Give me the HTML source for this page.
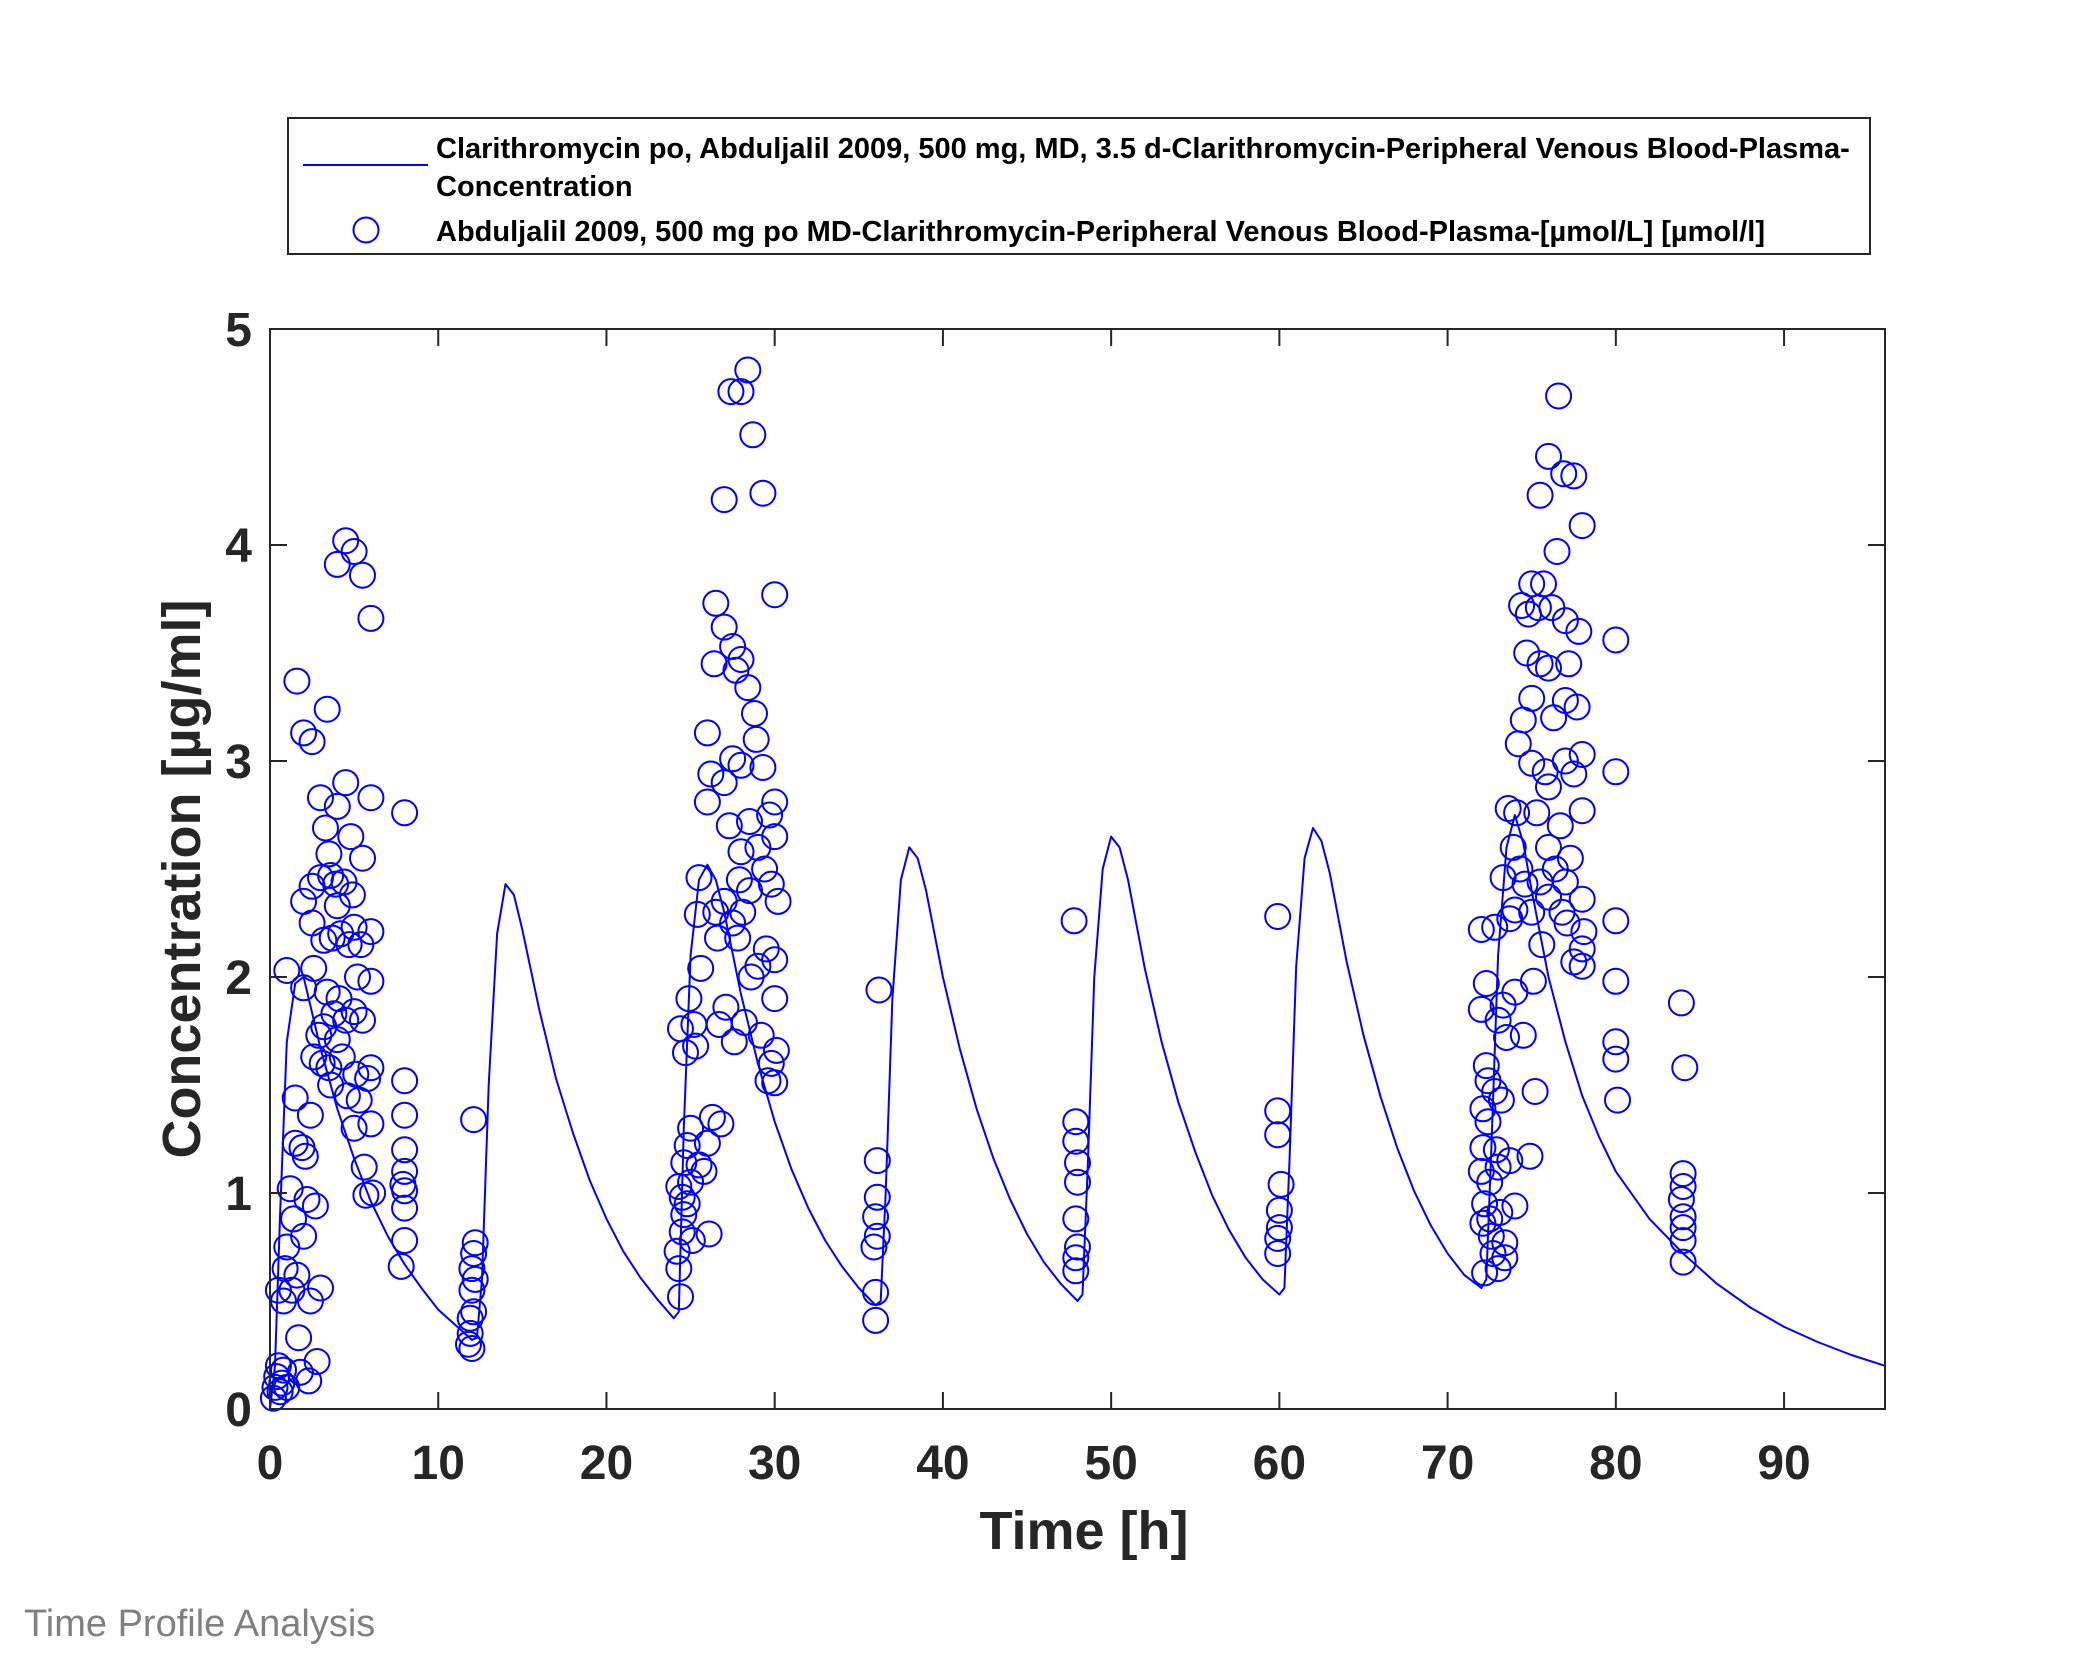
<!DOCTYPE html>
<html><head><meta charset="utf-8"><style>
body{margin:0;background:#fff}
svg{display:block}
text{font-family:"Liberation Sans",Arial,sans-serif}
</style></head><body>
<svg id="chart" width="2083" height="1667" viewBox="0 0 2083 1667" xmlns="http://www.w3.org/2000/svg">
<rect x="0" y="0" width="2083" height="1667" fill="#fff"/>
<g id="plot"></g>
<g id="axes"></g>
<text x="1084" y="1549" text-anchor="middle" font-size="54" font-weight="bold" fill="#262626">Time [h]</text>
<text transform="translate(200,879) rotate(-90)" text-anchor="middle" font-size="54" font-weight="bold" fill="#262626">Concentration [µg/ml]</text>
<g>
<rect x="288" y="118" width="1582" height="136" fill="#fff" stroke="#262626" stroke-width="2"/>
<line x1="303" y1="165" x2="428" y2="165" stroke="#0000ff" stroke-width="2"/>
<text x="436" y="158" font-size="29" font-weight="bold" fill="#000">Clarithromycin po, Abduljalil 2009, 500 mg, MD, 3.5 d-Clarithromycin-Peripheral Venous Blood-Plasma-</text>
<text x="436" y="196" font-size="29" font-weight="bold" fill="#000">Concentration</text>
<circle cx="366" cy="230" r="12.5" fill="none" stroke="#0000ff" stroke-width="2"/>
<text x="436" y="241" font-size="29" font-weight="bold" fill="#000">Abduljalil 2009, 500 mg po MD-Clarithromycin-Peripheral Venous Blood-Plasma-[µmol/L] [µmol/l]</text>
</g>
<text x="24" y="1636" font-size="38" fill="#808080">Time Profile Analysis</text>
</svg>
<script>
const xTicks=[0,10,20,30,40,50,60,70,80,90];
const yTicks=[0,1,2,3,4,5];
const simTime=[0,0.3,0.6,1,1.5,2,3,4,5,6,7,8,9,10,11,12,12.3,12.6,13,13.5,14,14.5,15,16,17,18,19,20,21,22,23,24,24.3,24.6,25,25.5,26,26.5,27,28,29,30,31,32,33,34,35,36,36.3,36.6,37,37.5,38,38.5,39,40,41,42,43,44,45,46,47,48,48.3,48.6,49,49.5,50,50.5,51,52,53,54,55,56,57,58,59,60,60.3,60.6,61,61.5,62,62.5,63,64,65,66,67,68,69,70,71,72,72.3,72.6,73,73.5,74,74.5,75,76,77,78,79,80,82,84,86,88,90,92,94,96];
const simConc=[0,0.2,0.9,1.7,1.97,2.0,1.67,1.39,1.16,0.96,0.8,0.67,0.56,0.46,0.39,0.32,0.33,0.6,1.5,2.2,2.43,2.38,2.22,1.85,1.53,1.28,1.06,0.88,0.73,0.61,0.51,0.42,0.45,1.3,2.1,2.45,2.52,2.45,2.3,1.92,1.6,1.33,1.11,0.93,0.78,0.66,0.56,0.48,0.5,1.0,1.9,2.45,2.6,2.55,2.4,2.0,1.67,1.39,1.16,0.97,0.81,0.68,0.58,0.5,0.53,1.1,2.0,2.5,2.65,2.6,2.45,2.04,1.7,1.42,1.19,0.99,0.83,0.7,0.6,0.53,0.56,1.15,2.05,2.55,2.69,2.63,2.48,2.07,1.73,1.45,1.21,1.01,0.85,0.72,0.62,0.56,0.6,1.2,2.1,2.6,2.75,2.62,2.4,2.0,1.7,1.45,1.26,1.1,0.88,0.72,0.58,0.47,0.38,0.31,0.25,0.2];
const obsTime=[0.2,0.3,0.4,0.5,0.6,0.7,0.8,1.0,0.5,0.8,0.9,1.0,1.0,1.2,1.3,1.4,1.5,1.5,1.6,1.6,1.7,1.8,1.9,2.0,2.0,2.0,2.0,2.1,2.2,2.3,2.4,2.4,2.5,2.5,2.5,2.6,2.6,2.7,2.8,2.9,3.0,3.0,3.0,3.1,3.2,3.2,3.3,3.4,3.4,3.5,3.5,3.6,3.6,3.7,3.8,3.9,4.0,4.0,4.0,4.0,4.1,4.2,4.3,4.4,4.5,4.5,4.5,4.6,4.7,4.8,4.9,5.0,5.0,5.0,5.0,5.1,5.2,5.3,5.4,5.5,5.5,5.5,5.6,5.7,5.8,6.0,6.0,6.0,6.0,6.0,6.0,6.1,7.8,8.0,8.0,8.0,8.0,8.0,8.0,8.0,8.0,7.9,
11.8,11.9,11.9,12.0,12.0,12.0,12.1,12.1,12.2,12.2,12.1,
24.2,24.3,24.3,24.4,24.4,24.5,24.5,24.6,24.6,24.7,24.8,24.8,24.9,25.0,25.0,25.1,25.2,25.3,25.4,25.5,25.5,25.6,25.8,26.0,26.0,26.0,26.1,26.2,26.3,26.4,26.5,26.5,26.6,26.7,26.8,27.0,27.0,27.0,27.0,27.1,27.3,27.4,27.5,27.5,27.5,27.6,27.7,27.8,28.0,28.0,28.0,28.0,28.1,28.2,28.4,28.4,28.5,28.5,28.7,28.8,28.9,29.0,29.0,29.2,29.3,29.3,29.4,29.5,29.6,29.7,29.8,30.0,30.0,30.0,30.0,30.0,30.1,30.2,30.0,29.8,28.6,27.9,
35.9,36.0,36.0,36.1,36.1,36.1,36.2,36.0,
47.8,47.9,47.9,48.0,48.0,47.9,48.0,47.9,47.9,
59.9,59.9,59.9,60.1,60.0,60.0,59.9,59.9,
72.0,72.0,72.1,72.1,72.0,72.2,72.1,72.2,72.3,72.3,72.4,72.4,72.5,72.5,72.6,72.7,72.8,72.8,72.9,73.0,73.0,73.0,73.1,73.2,73.3,73.3,73.4,73.4,73.5,73.6,73.7,73.7,73.9,74.0,74.0,74.0,74.1,74.2,74.3,74.4,74.5,74.5,74.6,74.7,74.8,74.9,75.0,75.0,75.0,75.0,75.1,75.2,75.3,75.4,75.5,75.5,75.5,75.6,75.7,75.8,76.0,76.0,76.0,76.0,76.0,76.2,76.3,76.4,76.5,76.6,76.7,76.8,76.9,77.0,77.0,77.0,77.0,77.1,77.2,77.3,77.5,77.5,77.5,77.7,77.8,78.0,78.0,78.0,78.0,78.0,78.0,78.1,80.0,80.0,80.0,80.0,80.0,80.0,80.1,
83.9,84.1,84.0,84.0,83.9,84.0,84.0,84.0,84.0];
const obsConc=[0.05,0.1,0.15,0.2,0.08,0.12,0.18,0.1,0.55,0.5,0.65,0.75,2.03,1.02,0.55,0.88,1.44,1.23,3.37,0.62,0.33,0.17,1.21,3.13,2.35,1.95,0.8,1.17,0.97,0.13,0.5,1.36,3.09,2.42,2.25,2.04,1.63,0.94,0.22,1.73,2.83,2.46,0.56,1.6,2.17,1.77,2.69,3.24,1.93,2.57,1.58,2.47,1.5,2.18,1.83,2.43,3.91,2.79,2.33,1.71,1.9,2.2,1.63,2.44,4.02,2.9,1.8,1.45,2.15,2.65,2.38,3.97,2.23,1.84,1.3,1.55,2.0,1.43,2.15,3.86,2.55,1.8,1.12,0.99,1.53,3.66,2.83,2.21,1.98,1.58,1.32,1.0,0.66,2.76,1.52,1.36,1.2,1.1,1.01,0.93,0.78,1.04,
0.3,0.35,0.42,0.28,0.55,0.65,1.34,0.72,0.77,0.6,0.45,
0.73,1.03,0.65,0.52,1.76,0.98,0.82,1.14,0.9,1.65,1.22,0.95,1.9,1.3,1.05,0.78,1.78,1.68,2.29,2.46,1.13,2.04,1.1,3.13,2.81,1.23,0.81,2.94,1.35,3.45,3.73,2.3,2.18,1.78,1.32,4.21,3.62,2.9,2.35,1.86,2.7,4.71,3.53,3.01,2.25,1.7,3.42,2.18,4.71,3.47,2.98,2.58,2.3,1.79,4.81,3.34,2.72,2.4,4.51,3.22,3.1,2.6,2.05,1.73,4.24,2.97,2.5,2.13,1.52,2.75,2.43,3.77,2.81,2.65,2.08,1.9,1.66,2.35,1.51,1.6,2.0,2.45,
0.75,0.41,0.54,0.8,0.98,1.15,1.94,0.89,
2.26,1.33,1.24,1.14,1.05,0.88,0.75,0.7,0.64,
2.28,1.38,1.27,1.04,0.92,0.84,0.79,0.72,
2.22,1.85,1.39,1.21,1.1,0.95,0.86,0.63,1.97,1.59,1.52,1.33,1.05,0.88,0.8,0.72,2.23,1.47,1.2,1.8,1.12,0.65,0.91,1.43,1.87,2.46,0.7,0.77,1.72,2.78,2.27,1.15,2.6,2.31,1.93,0.94,2.76,3.08,2.5,3.72,3.19,1.73,2.43,3.5,3.68,1.17,3.82,3.29,2.99,2.3,1.98,1.47,2.76,3.71,4.23,3.45,2.44,2.15,3.82,2.95,4.41,3.43,2.88,2.6,2.37,3.71,3.2,2.5,3.97,4.69,2.7,2.3,4.33,3.65,3.28,3.0,2.44,2.25,3.45,2.55,4.32,2.94,2.07,3.25,3.6,4.09,3.03,2.77,2.36,2.13,2.05,2.21,3.56,2.95,2.26,1.98,1.7,1.62,1.43,
1.88,1.58,1.09,1.03,0.97,0.89,0.84,0.78,0.68];

const X0=270,X1=1885,Y0=1409,Y1=329,XMAX=96,YMAX=5;
const xs=t=>X0+(X1-X0)*t/XMAX;
const ys=c=>Y0-(Y0-Y1)*c/YMAX;
const NS='http://www.w3.org/2000/svg';
const plot=document.getElementById('plot');
const axes=document.getElementById('axes');
function mk(tag,attrs,parent){const e=document.createElementNS(NS,tag);for(const k in attrs)e.setAttribute(k,attrs[k]);parent.appendChild(e);return e;}

let d='';
simTime.forEach((t,i)=>{d+=(i?'L':'M')+xs(t).toFixed(1)+' '+ys(simConc[i]).toFixed(1);});
const line=mk('path',{d:d,fill:'none',stroke:'#0000ff','stroke-width':2,'stroke-linejoin':'round'},plot);



obsTime.forEach((t,i)=>{
  const c=mk('circle',{cx:xs(t).toFixed(1),cy:ys(obsConc[i]).toFixed(1),r:12.5,fill:'none',stroke:'#0000ff','stroke-width':2},plot);
  
  
});

const box=mk('rect',{x:X0,y:Y1,width:X1-X0,height:Y0-Y1,fill:'none',stroke:'#262626','stroke-width':2},axes);


const TL=17;
xTicks.forEach(v=>{
  const x=xs(v);
  const t1=mk('line',{x1:x,y1:Y0,x2:x,y2:Y0-TL,stroke:'#262626','stroke-width':2},axes);
  
  
  const t2=mk('line',{x1:x,y1:Y1,x2:x,y2:Y1+TL,stroke:'#262626','stroke-width':2},axes);
  
  
  const lb=mk('text',{x:x,y:Y0+70,'text-anchor':'middle','font-size':48,'font-weight':'bold',fill:'#262626'},axes);
  lb.textContent=String(v);
  
  
});
yTicks.forEach(v=>{
  const y=ys(v);
  const t1=mk('line',{x1:X0,y1:y,x2:X0+TL,y2:y,stroke:'#262626','stroke-width':2},axes);
  
  
  const t2=mk('line',{x1:X1,y1:y,x2:X1-TL,y2:y,stroke:'#262626','stroke-width':2},axes);
  
  
  const lb=mk('text',{x:X0-18,y:y+17,'text-anchor':'end','font-size':48,'font-weight':'bold',fill:'#262626'},axes);
  lb.textContent=String(v);
  
  
});
</script>
</body></html>
